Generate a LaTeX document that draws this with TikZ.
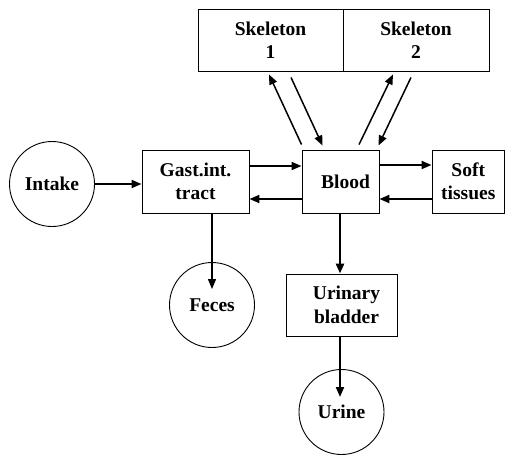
\documentclass[tikz,border=0pt]{standalone}
\usepackage{fontspec}
\setmainfont{Liberation Serif}
\usetikzlibrary{arrows.meta,calc}

\begin{document}
\begin{tikzpicture}
	[x=1pt,y=-1pt,every node/.style={draw,line width=0.9pt,inner sep=0pt,align=center,font=\fontsize{19.5}{23.5}\selectfont\bfseries}]
	\tikzstyle{box} = [rectangle];
	\tikzstyle{pool} = [circle,minimum size=85pt];
	\tikzstyle{edges} = [line width=2pt,-{Triangle[length=10pt,width=8pt]}];
	\useasboundingbox (0,0) rectangle (505,455);
	
	\node[box,minimum width=145pt,minimum height=62pt] (skel1) at (270.5,40) {Skeleton\\1};
	\node[box,minimum width=146pt,minimum height=62pt] (skel2) at (416,40) {Skeleton\\2};
	\node[pool] (intake) at (52,184) {Intake};
	\node[box,minimum width=107pt,minimum height=63pt] (gast) at (195.5,181.5) {Gast.int.\\tract};
	\node[box,minimum width=77pt,minimum height=63pt] (blood) at (340.5,181.5) {\hspace*{10pt}Blood};
	\node[box,minimum width=72.5pt,minimum height=63pt] (soft) at (468.25,181.5) {Soft\\tissues};
	\node[pool] (feces) at (212,305) {Feces};
	\node[box,minimum width=111pt,minimum height=62pt] (bladder) at (341.5,305) {\hspace*{10pt}Urinary\\\hspace*{10pt}bladder};
	\node[pool] (urine) at (341.5,412) {Urine};
	
	\draw[edges] (intake.east) -- (intake.east -| gast.west);
	\draw[edges] ([yshift=15.5pt]gast.east) -- ([yshift=15.5pt]blood.west);
	\draw[edges] ([yshift=-17.5pt]blood.west) -- ([yshift=-17.5pt]gast.east);
	\draw[edges] ([yshift=16.5pt]blood.east) -- ([yshift=16.5pt]soft.west);
	\draw[edges] ([yshift=-17.5pt]soft.west) -- ([yshift=-17.5pt]blood.east);
	\draw[edges,line width=1.5pt] ([yshift=5pt]blood.north west) -- ([xshift=-1.5pt,yshift=-3pt]skel1.south);
	\draw[edges,line width=1.5pt] ([xshift=20.5pt,yshift=-6pt]skel1.south) -- ([xshift=21pt,yshift=4pt]blood.north west);
	\draw[edges,line width=1.5pt] ([xshift=18.5pt,yshift=5pt]blood.north) -- ([xshift=-23pt,yshift=-3pt]skel2.south);
	\draw[edges,line width=1.5pt] ([xshift=-5pt,yshift=-6pt]skel2.south) -- ([xshift=-1pt,yshift=4pt]blood.north east);
	\draw[edges,line width=1.3pt] (gast.south -| feces) -- ([yshift=16pt]feces.center);
	\draw[edges,line width=2.5pt] ([xshift=-0.5pt]blood.south) -- ([xshift=-0.5pt]bladder.north -| blood.south);
	\draw[edges] ([xshift=-0.5pt]bladder.south -| blood.south) -- ([xshift=-0.5pt,yshift=15pt]urine.center -| blood.south);
\end{tikzpicture}
\end{document}
